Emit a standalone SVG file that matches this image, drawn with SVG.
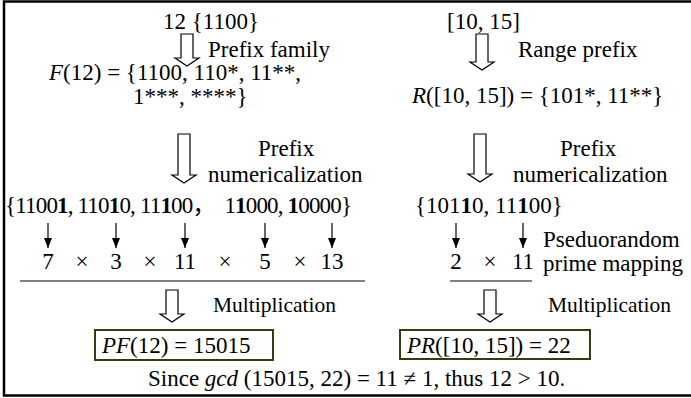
<svg xmlns="http://www.w3.org/2000/svg" width="691" height="398" viewBox="0 0 691 398">
<defs>
<style>
text{font-size:23px;fill:#000}
.i{font-style:italic}
.b{font-weight:bold}
.m{font-size:21.5px}
.hollow{fill:#fff;stroke:#000;stroke-width:1.2}
.thin{stroke:#000;stroke-width:1.2;fill:none}
.box{fill:#fff;stroke:#3a3a10;stroke-width:2}
</style>
<marker id="ah" viewBox="0 0 10 8" refX="10" refY="4" markerWidth="10" markerHeight="8" markerUnits="userSpaceOnUse" orient="auto">
<path d="M0,0 L10,4 L0,8 Z" fill="#000"/>
</marker>
</defs>
<rect x="4" y="1.5" width="700" height="394" fill="#fff" stroke="#000" stroke-width="2.5"/>

<g id="left-input"><text font-family="Liberation Serif, serif" x="163" y="29">12 {1100}</text></g>
<g id="left-prefix-family-label"><text font-family="Liberation Serif, serif" x="208" y="57">Prefix family</text></g>
<g id="left-family"><text font-family="Liberation Serif, serif" x="49" y="80"><tspan class="i">F</tspan>(12) = {1100, 110*, 11**,</text><text font-family="Liberation Serif, serif" x="133" y="104">1***, ****}</text></g>
<g id="left-numer-label"><text font-family="Liberation Serif, serif" x="258" y="156">Prefix</text><text font-family="Liberation Serif, serif" x="208" y="182">numericalization</text></g>
<g id="left-numbers"><text xml:space="preserve" font-size="21.5" font-family="Liberation Serif, Noto Sans CJK SC, serif" x="5" y="213" textLength="347" lengthAdjust="spacing">{1100<tspan class="b">1</tspan>, 110<tspan class="b">1</tspan>0, 11<tspan class="b">1</tspan>00，  1<tspan class="b">1</tspan>000, <tspan class="b">1</tspan>0000}</text></g>
<g id="left-primes"><text font-family="Liberation Serif, serif" y="269" text-anchor="middle"><tspan x="48">7</tspan><tspan x="82">×</tspan><tspan x="116">3</tspan><tspan x="150">×</tspan><tspan x="185">11</tspan><tspan x="225">×</tspan><tspan x="265">5</tspan><tspan x="300">×</tspan><tspan x="332">13</tspan></text></g>
<g id="left-mult-label"><text class="m" font-family="Liberation Serif, serif" x="213" y="312">Multiplication</text></g>
<g id="left-result"><rect class="box" x="95" y="330" width="178" height="30"/><text font-family="Liberation Serif, serif" x="102" y="353"><tspan class="i">PF</tspan>(12) = 15015</text></g>

<g id="right-input"><text font-family="Liberation Serif, serif" x="447" y="29">[10, 15]</text></g>
<g id="right-range-label"><text font-family="Liberation Serif, serif" x="518" y="57">Range prefix</text></g>
<g id="right-range"><text font-family="Liberation Serif, serif" x="412" y="103"><tspan class="i">R</tspan>([10, 15]) = {101*, 11**}</text></g>
<g id="right-numer-label"><text font-family="Liberation Serif, serif" x="560" y="156">Prefix</text><text font-family="Liberation Serif, serif" x="513" y="182">numericalization</text></g>
<g id="right-numbers"><text font-family="Liberation Serif, serif" x="415" y="213">{101<tspan class="b">1</tspan>0, 11<tspan class="b">1</tspan>00}</text></g>
<g id="right-prime-label"><text font-family="Liberation Serif, serif" x="543" y="247">Pseduorandom</text><text font-family="Liberation Serif, serif" x="543" y="271">prime mapping</text></g>
<g id="right-primes"><text font-family="Liberation Serif, serif" y="269" text-anchor="middle"><tspan x="456">2</tspan><tspan x="490">×</tspan><tspan x="523">11</tspan></text></g>
<g id="right-mult-label"><text class="m" font-family="Liberation Serif, serif" x="548" y="312">Multiplication</text></g>
<g id="right-result"><rect class="box" x="400" y="330" width="190" height="29"/><text font-family="Liberation Serif, serif" x="407" y="353"><tspan class="i">PR</tspan>([10, 15]) = 22</text></g>

<g id="conclusion"><text font-family="Liberation Serif, serif" x="148" y="386">Since <tspan class="i">gcd</tspan> (15015, 22) = 11 ≠ 1, thus 12 &gt; 10.</text></g>

<g id="connectors">
<path class="hollow" d="M181,34 H193 V58 H199 L187,66 L175,58 H181 Z"/>
<path class="hollow" d="M178,134 H190 V175 H196 L184,183 L172,175 H178 Z"/>
<path class="hollow" d="M166,290 H178 V314 H184 L172,322 L160,314 H166 Z"/>
<path class="hollow" d="M476,34 H488 V62 H494 L482,70 L470,62 H476 Z"/>
<path class="hollow" d="M474,134 H486 V174 H492 L480,182 L468,174 H474 Z"/>
<path class="hollow" d="M484,290 H496 V314 H502 L490,322 L478,314 H484 Z"/>
<line class="thin" x1="48" y1="223" x2="48" y2="248" marker-end="url(#ah)"/>
<line class="thin" x1="116" y1="223" x2="116" y2="248" marker-end="url(#ah)"/>
<line class="thin" x1="185" y1="223" x2="185" y2="248" marker-end="url(#ah)"/>
<line class="thin" x1="265" y1="223" x2="265" y2="248" marker-end="url(#ah)"/>
<line class="thin" x1="332" y1="223" x2="332" y2="248" marker-end="url(#ah)"/>
<line class="thin" x1="456" y1="223" x2="456" y2="248" marker-end="url(#ah)"/>
<line class="thin" x1="523" y1="223" x2="523" y2="248" marker-end="url(#ah)"/>
<line class="thin" x1="20" y1="281" x2="365" y2="281"/>
<line class="thin" x1="450" y1="281" x2="532" y2="281"/>
</g>
</svg>
